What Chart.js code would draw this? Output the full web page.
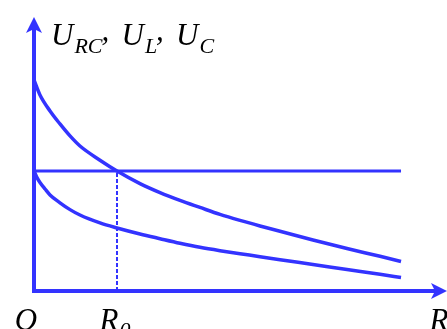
<!DOCTYPE html>
<html>
<head>
<meta charset="utf-8">
<script src="https://cdn.jsdelivr.net/npm/chart.js@4.4.1/dist/chart.umd.min.js"></script>
<style>
  html, body { margin: 0; padding: 0; background: #ffffff; }
  #c { display: block; }
</style>
</head>
<body>
<canvas id="c" width="447" height="329"></canvas>
<script>
// ---- data (R in units of R0, voltage in units of the constant line) ----
const upperR = [0, 0.072, 0.193, 0.313, 0.434, 0.554, 0.795, 1.00, 1.277, 1.518, 1.759, 2.00, 2.241, 2.482, 2.723, 2.964, 3.361, 3.771, 4.169, 4.422];
const upperU = [1.758, 1.633, 1.500, 1.392, 1.292, 1.208, 1.090, 1.00, 0.895, 0.820, 0.755, 0.696, 0.638, 0.588, 0.542, 0.498, 0.425, 0.354, 0.289, 0.246];
const lowerR = [0, 0.036, 0.072, 0.133, 0.193, 0.313, 0.434, 0.554, 0.795, 1.00, 1.277, 1.518, 1.759, 2.00, 2.241, 2.482, 2.723, 2.964, 3.361, 3.771, 4.169, 4.422];
const lowerU = [1.00, 0.945, 0.905, 0.850, 0.800, 0.735, 0.678, 0.633, 0.567, 0.525, 0.475, 0.436, 0.398, 0.364, 0.336, 0.311, 0.286, 0.261, 0.221, 0.179, 0.139, 0.112];
const flatR  = [0, 4.422];
const flatU  = [1.00, 1.00];
const dashR  = [1.00, 1.00];
const dashU  = [0, 1.00];
const xTickValues = [0, 1, 4.976];
const xTickMain   = ['O', 'R', 'R'];
const xTickSub    = ['', '0', ''];
const titleMain   = ['U', 'U', 'U'];
const titleSub    = ['RC', 'L', 'C'];
const xMax = 4.976;
const yMax = 2.283;

const BLUE = 'rgb(51,51,255)';
const toPts = (xs, ys) => xs.map((x, i) => ({ x: x, y: ys[i] }));

const axesPlugin = {
  id: 'axesArrows',
  afterDatasetsDraw(chart) {
    const ctx = chart.ctx;
    const xs = chart.scales.x, ys = chart.scales.y;
    const x0 = xs.getPixelForValue(0);
    const y0 = ys.getPixelForValue(0);
    const xEnd = xs.getPixelForValue(xMax);
    const yEnd = ys.getPixelForValue(yMax);
    ctx.save();
    ctx.strokeStyle = BLUE;
    ctx.fillStyle = BLUE;
    ctx.lineWidth = 4;
    ctx.lineCap = 'butt';
    // y axis
    ctx.beginPath();
    ctx.moveTo(x0, y0 + 2);
    ctx.lineTo(x0, yEnd + 10);
    ctx.stroke();
    // x axis
    ctx.beginPath();
    ctx.moveTo(x0 - 2, y0);
    ctx.lineTo(xEnd - 10, y0);
    ctx.stroke();
    // y arrow
    ctx.beginPath();
    ctx.moveTo(x0, yEnd);
    ctx.lineTo(x0 + 8, yEnd + 16);
    ctx.lineTo(x0, yEnd + 12);
    ctx.lineTo(x0 - 8, yEnd + 16);
    ctx.closePath();
    ctx.fill();
    // x arrow
    ctx.beginPath();
    ctx.moveTo(xEnd, y0);
    ctx.lineTo(xEnd - 16, y0 - 8);
    ctx.lineTo(xEnd - 12, y0);
    ctx.lineTo(xEnd - 16, y0 + 8);
    ctx.closePath();
    ctx.fill();

    // x tick labels
    ctx.fillStyle = '#000000';
    ctx.textBaseline = 'alphabetic';
    const mainFont = 'italic 31px "Liberation Serif"';
    const subFont = 'italic 22px "Liberation Serif"';
    xTickValues.forEach((v, i) => {
      const px = xs.getPixelForValue(v);
      ctx.font = mainFont;
      const w = ctx.measureText(xTickMain[i]).width;
      const left = px - 8 - w / 2;
      ctx.textAlign = 'left';
      ctx.fillText(xTickMain[i], left, 330);
      if (xTickSub[i]) {
        ctx.font = subFont;
        ctx.fillText(xTickSub[i], left + w + 1, 337);
      }
    });

    // y axis title
    let tx = x0 + 17;
    titleMain.forEach((m, i) => {
      ctx.font = mainFont;
      ctx.textAlign = 'left';
      ctx.fillText(m, tx, 45);
      tx += ctx.measureText(m).width + 1;
      ctx.font = subFont;
      ctx.fillText(titleSub[i], tx, 53);
      tx += ctx.measureText(titleSub[i]).width;
      if (i < titleMain.length - 1) {
        ctx.font = mainFont;
        ctx.fillText(',', tx - 1, 40);
        tx += 19;
      }
    });
    ctx.restore();
  }
};

new Chart(document.getElementById('c'), {
  type: 'line',
  data: {
    datasets: [
      { data: toPts(upperR, upperU), borderColor: BLUE, borderWidth: 3.5, pointRadius: 0, cubicInterpolationMode: 'monotone', fill: false },
      { data: toPts(lowerR, lowerU), borderColor: BLUE, borderWidth: 3.5, pointRadius: 0, cubicInterpolationMode: 'monotone', fill: false },
      { data: toPts(flatR, flatU), borderColor: BLUE, borderWidth: 3, pointRadius: 0, fill: false },
      { data: toPts(dashR, dashU), borderColor: BLUE, borderWidth: 2, borderDash: [4, 2], pointRadius: 0, fill: false }
    ]
  },
  options: {
    responsive: false,
    animation: false,
    events: [],
    layout: { padding: { left: 34, right: 0, top: 17, bottom: 38 } },
    plugins: { legend: { display: false }, tooltip: { enabled: false }, title: { display: false } },
    scales: {
      x: { type: 'linear', min: 0, max: xMax, display: false },
      y: { type: 'linear', min: 0, max: yMax, display: false }
    }
  },
  plugins: [axesPlugin]
});
</script>
</body>
</html>
